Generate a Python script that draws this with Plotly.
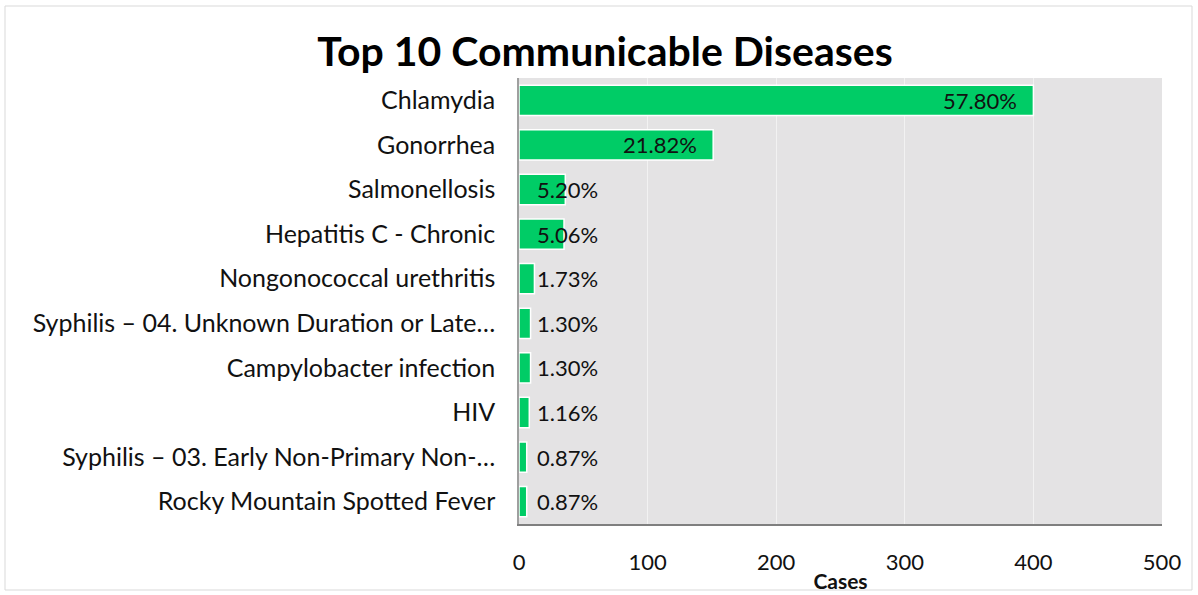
import plotly.graph_objects as go

diseases = [
    "Chlamydia",
    "Gonorrhea",
    "Salmonellosis",
    "Hepatitis C - Chronic",
    "Nongonococcal urethritis",
    "Syphilis – 04. Unknown Duration or Late…",
    "Campylobacter infection",
    "HIV",
    "Syphilis – 03. Early Non-Primary Non-…",
    "Rocky Mountain Spotted Fever",
]
cases = [400, 151, 36, 35, 12, 9, 9, 8, 6, 6]
pct_labels = ["57.80%", "21.82%", "5.20%", "5.06%", "1.73%", "1.30%", "1.30%", "1.16%", "0.87%", "0.87%"]
x_ticks = [0, 100, 200, 300, 400, 500]

FONT = "Lato"
L, R, T, B = 519, 36, 78, 71
PW, PH = 1198 - L - R, 595 - T - B

fig = go.Figure()
fig.add_trace(go.Bar(
    y=diseases,
    x=cases,
    orientation="h",
    marker=dict(color="#00CC66", line=dict(color="#FFFFFF", width=1.5)),
    hoverinfo="skip",
))

for d, c, t in zip(diseases, cases, pct_labels):
    if c >= 100:
        fig.add_annotation(
            x=c, y=d, xref="x", yref="y", text=t, showarrow=False,
            xanchor="right", xshift=-14,
            font=dict(family=FONT, size=22, color="#111111"),
        )
    else:
        fig.add_annotation(
            x=0, y=d, xref="x", yref="y", text=t, showarrow=False,
            xanchor="left", xshift=16,
            font=dict(family=FONT, size=22, color="#111111"),
        )

fig.update_layout(
    width=1198, height=595,
    margin=dict(l=L, r=R, t=T, b=B, autoexpand=False),
    paper_bgcolor="white",
    plot_bgcolor="#E4E3E4",
    bargap=0.32,
    showlegend=False,
    title=dict(
        text="<b>Top 10 Communicable Diseases</b>",
        x=0.505, xanchor="center", yref="container", y=1 - 37 / 595, yanchor="top",
        font=dict(family=FONT, size=41, color="#000000"),
    ),
    xaxis=dict(
        range=[0, 500],
        tickvals=x_ticks,
        automargin=False,
        showgrid=True, gridcolor="#F2F2F2", gridwidth=1,
        zeroline=False,
        showline=True, linecolor="#7F7F7F", linewidth=1.5,
        ticks="",
        ticklabelstandoff=18,
        tickfont=dict(family=FONT, size=22, color="#111111"),
        title=dict(text="<b>Cases</b>", font=dict(family=FONT, size=21, color="#111111"), standoff=0),
    ),
    yaxis=dict(
        autorange="reversed",
        automargin=False,
        showgrid=False,
        showline=True, linecolor="#9F9F9F", linewidth=1.5,
        ticks="",
        ticklabelstandoff=17,
        tickfont=dict(family=FONT, size=25, color="#111111"),
    ),
    shapes=[dict(
        type="rect", xref="paper", yref="paper",
        x0=(5 - L) / PW, x1=(1192 - L) / PW, y0=-(590 - (595 - B)) / PH, y1=1 + (T - 6) / PH,
        line=dict(color="#D9D9D9", width=1), fillcolor="rgba(0,0,0,0)",
        layer="below",
    )],
)

fig.write_html("out.html", config={"displayModeBar": False},
               post_script="document.body.style.margin='0';")
